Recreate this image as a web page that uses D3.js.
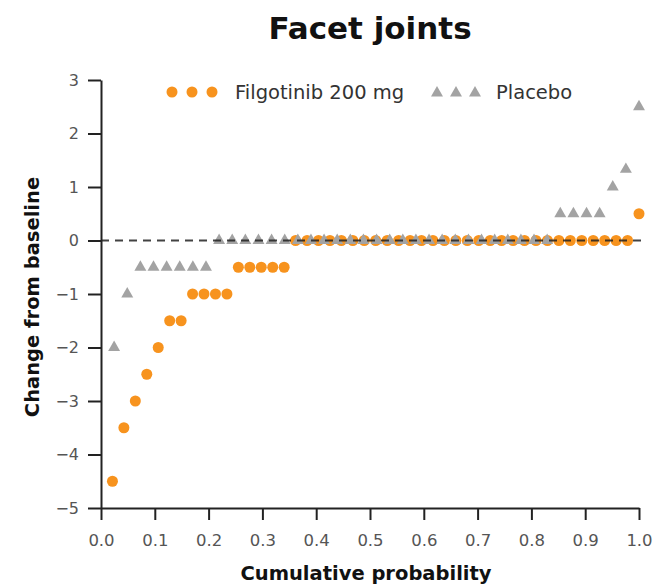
<!DOCTYPE html>
<html>
<head>
<meta charset="utf-8">
<script src="https://cdn.jsdelivr.net/npm/d3@7"></script>
<style>
  body { margin: 0; background: #fff; }
  svg { display: block; }
</style>
</head>
<body>
<svg id="chart" width="656" height="587"></svg>
<script>
// ---- Data ----
const title = "Facet joints";
const xLabel = "Cumulative probability";
const yLabel = "Change from baseline";
const seriesNames = ["Filgotinib 200 mg", "Placebo"];

// Sorted changes from baseline, each patient one point (cumulative probability = rank / n)
const filgotinibValues = [
  -4.5, -3.5, -3, -2.5, -2, -1.5, -1.5, -1, -1, -1, -1,
  -0.5, -0.5, -0.5, -0.5, -0.5,
  0, 0, 0, 0, 0, 0, 0, 0, 0, 0, 0, 0, 0, 0, 0,
  0, 0, 0, 0, 0, 0, 0, 0, 0, 0, 0, 0, 0, 0, 0,
  0.5
];
const placeboValues = [
  -2, -1, -0.5, -0.5, -0.5, -0.5, -0.5, -0.5,
  0, 0, 0, 0, 0, 0, 0, 0, 0, 0, 0, 0, 0, 0, 0, 0, 0,
  0, 0, 0, 0, 0, 0, 0, 0, 0,
  0.5, 0.5, 0.5, 0.5, 1, 1.33, 2.5
];
const xTicks = [0, 0.1, 0.2, 0.3, 0.4, 0.5, 0.6, 0.7, 0.8, 0.9, 1.0];
const yTicks = [-5, -4, -3, -2, -1, 0, 1, 2, 3];

// ---- Layout ----
const svg = d3.select("#chart");
const margin = { left: 101, right: 17, top: 80, bottom: 79 };
const W = 656, H = 587;
const x = d3.scaleLinear().domain([0, 1]).range([margin.left, W - margin.right]);
const y = d3.scaleLinear().domain([-5, 3]).range([H - margin.bottom, margin.top]);

const orange = "#f7931e";
const gray = "#a3a3a3";
const textColor = "#333";
const fontFam = "Tahoma, 'DejaVu Sans', Verdana, sans-serif";

// Title
svg.append("text")
  .attr("x", (x(0) + x(1)) / 2).attr("y", 39)
  .attr("text-anchor", "middle")
  .attr("font-family", fontFam).attr("font-weight", "bold")
  .attr("font-size", 31).attr("fill", "#111")
  .text(title);

// Axes
const xAxis = d3.axisBottom(x).tickValues(xTicks).tickFormat(d3.format(".1f"))
  .tickSize(12).tickSizeOuter(0).tickPadding(14);
const gx = svg.append("g").attr("transform", `translate(0,${y(-5)})`).call(xAxis);
gx.select(".domain").attr("stroke", "#222").attr("stroke-width", 2);
gx.selectAll(".tick line").attr("stroke", "#222").attr("stroke-width", 2);
gx.selectAll(".tick text").attr("font-family", fontFam).attr("font-size", 16.5).attr("fill", "#555");

const yAxis = d3.axisLeft(y).tickValues(yTicks)
  .tickFormat(d => d < 0 ? "\u2212" + Math.abs(d) : String(d))
  .tickSize(13).tickSizeOuter(0).tickPadding(9);
const gy = svg.append("g").attr("transform", `translate(${x(0)},0)`).call(yAxis);
gy.select(".domain").attr("stroke", "#222").attr("stroke-width", 2);
gy.selectAll(".tick line").attr("stroke", "#222").attr("stroke-width", 2);
gy.selectAll(".tick text").attr("font-family", fontFam).attr("font-size", 16).attr("fill", "#555");

// Axis titles
svg.append("text")
  .attr("x", (x(0) + x(1)) / 2 - 4).attr("y", 580)
  .attr("text-anchor", "middle")
  .attr("font-family", fontFam).attr("font-weight", "bold")
  .attr("font-size", 19.5).attr("fill", "#111")
  .text(xLabel);
svg.append("text")
  .attr("transform", `translate(39,${(y(-5) + y(3)) / 2 + 3}) rotate(-90)`)
  .attr("text-anchor", "middle")
  .attr("font-family", fontFam).attr("font-weight", "bold")
  .attr("font-size", 19.5).attr("fill", "#111")
  .text(yLabel);

// Data points
const fData = filgotinibValues.map((v, i) => ({ p: (i + 1) / filgotinibValues.length, v }));
const pData = placeboValues.map((v, i) => ({ p: (i + 1) / placeboValues.length, v }));

const triangle = d3.symbol().type(d3.symbolTriangle).size(62);

svg.append("g").selectAll("circle").data(fData).join("circle")
  .attr("cx", d => x(d.p)).attr("cy", d => y(d.v)).attr("r", 5.5)
  .attr("fill", orange);

svg.append("g").selectAll("path").data(pData).join("path")
  .attr("d", triangle)
  .attr("transform", d => `translate(${x(d.p)},${y(d.v)})`)
  .attr("fill", gray);

// Reference line at zero
svg.append("line")
  .attr("x1", x(0)).attr("x2", x(1) + 4)
  .attr("y1", y(0)).attr("y2", y(0))
  .attr("stroke", "#222").attr("stroke-width", 2)
  .attr("stroke-dasharray", "8,6").attr("opacity", 0.85);

// Legend
const leg = svg.append("g");
[172, 192, 212].forEach(cx => {
  leg.append("circle").attr("cx", cx).attr("cy", 92).attr("r", 5.5).attr("fill", orange);
});
leg.append("text").attr("x", 235).attr("y", 99)
  .attr("font-family", fontFam).attr("font-size", 19.5).attr("fill", textColor)
  .text(seriesNames[0]);
[437, 456, 475].forEach(cx => {
  leg.append("path").attr("d", triangle).attr("transform", `translate(${cx},93)`).attr("fill", gray);
});
leg.append("text").attr("x", 496).attr("y", 99)
  .attr("font-family", fontFam).attr("font-size", 19.5).attr("fill", textColor)
  .text(seriesNames[1]);
</script>
</body>
</html>
